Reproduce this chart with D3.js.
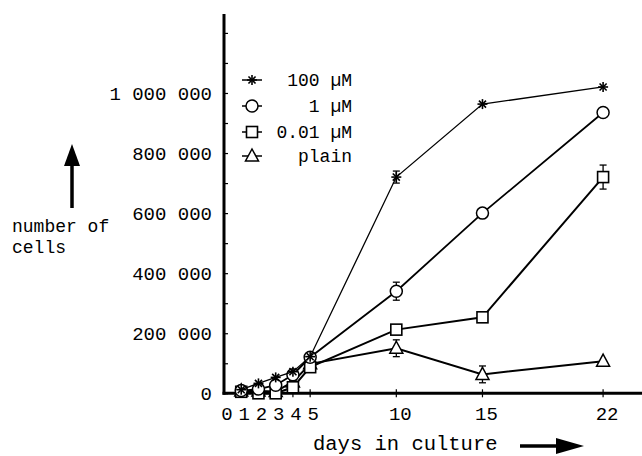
<!DOCTYPE html>
<html><head><meta charset="utf-8">
<script src="https://cdn.jsdelivr.net/npm/d3@7"></script>
<style>body{margin:0;background:#fff}svg{display:block}</style>
</head><body>
<script>
const days = [1, 2, 3, 4, 5, 10, 15, 22];
const xTickLabels = [0, 1, 2, 3, 4, 5, 10, 15, 22];
const yTickValues = [0, 200000, 400000, 600000, 800000, 1000000];
const yTickLabels = ["0", "200 000", "400 000", "600 000", "800 000", "1 000 000"];
const seriesNames = ["100 \u00b5M", "1 \u00b5M", "0.01 \u00b5M", "plain"];
const seriesSymbols = ["star", "circle", "square", "triangle"];
const v100 = [12000, 33000, 53000, 72000, 122000, 720000, 963000, 1020000];
const v1 = [9000, 14000, 27000, 62000, 120000, 340000, 600000, 935000];
const v001 = [5000, 0, 0, 20000, 87000, 212000, 253000, 720000];
const vPlain = [8000, 8000, 6000, 38000, 98000, 150000, 63000, 107000];
const err100 = [0, 0, 0, 0, 0, 20000, 0, 0];
const err1 = [0, 0, 0, 0, 0, 30000, 0, 0];
const err001 = [0, 0, 0, 0, 0, 0, 0, 40000];
const errPlain = [0, 0, 0, 0, 0, 28000, 28000, 0];
const allValues = [v100, v1, v001, vPlain];
const allErrors = [err100, err1, err001, errPlain];

const W = 642, H = 456;
const svg = d3.select("body").append("svg").attr("width", W).attr("height", H);
const x = d3.scaleLinear().domain([0, 24.2]).range([224, 641]);
const y = d3.scaleLinear().domain([0, 1263000]).range([393.3, 14]);
const font = "'Liberation Mono', 'DejaVu Sans Mono', monospace";

// Y axis
const yAxis = d3.axisRight(y).tickValues(d3.range(0, 1250001, 100000)).tickSize(4).tickFormat("");
const gy = svg.append("g").attr("transform", `translate(${x(0)},0)`).call(yAxis);
gy.select(".domain").remove();
gy.selectAll(".tick line").attr("stroke", "#000").attr("stroke-width", 1.2);
svg.append("line").attr("x1", x(0)).attr("x2", x(0)).attr("y1", y.range()[1]).attr("y2", y(0) + 1.5)
  .attr("stroke", "#000").attr("stroke-width", 3);
svg.append("g").selectAll("text").data(yTickValues).join("text")
  .attr("x", 212).attr("y", d => y(d)).attr("dy", "0.35em").attr("text-anchor", "end")
  .attr("font-family", font).attr("font-size", 19).text((d, i) => yTickLabels[i]);

// X axis
svg.append("line").attr("x1", x(0) - 1.5).attr("x2", W).attr("y1", y(0)).attr("y2", y(0))
  .attr("stroke", "#000").attr("stroke-width", 3);
svg.append("g").selectAll("line").data(xTickLabels.filter(d => d > 0)).join("line")
  .attr("x1", d => x(d)).attr("x2", d => x(d)).attr("y1", y(0) - 4).attr("y2", y(0) + 4)
  .attr("stroke", "#000").attr("stroke-width", 1.2);
svg.append("g").selectAll("text").data(xTickLabels).join("text")
  .attr("x", d => x(d) + (d >= 10 ? 4 : 3)).attr("y", 413).attr("dy", "0.35em").attr("text-anchor", "middle")
  .attr("font-family", font).attr("font-size", 19).text(d => d);

// Axis titles and arrows
svg.append("text").attr("x", 12).attr("y", 226).attr("dy", "0.35em")
  .attr("font-family", font).attr("font-size", 18).text("number of");
svg.append("text").attr("x", 12).attr("y", 247).attr("dy", "0.35em")
  .attr("font-family", font).attr("font-size", 18).text("cells");
svg.append("line").attr("x1", 72).attr("x2", 72).attr("y1", 208).attr("y2", 160).attr("stroke", "#000").attr("stroke-width", 3.5);
svg.append("path").attr("d", "M72,144 L64,166 L80,166 Z").attr("fill", "#000");
svg.append("text").attr("x", 313).attr("y", 443).attr("dy", "0.35em")
  .attr("font-family", font).attr("font-size", 20.5).text("days in culture");
svg.append("line").attr("x1", 520).attr("x2", 565).attr("y1", 446).attr("y2", 446).attr("stroke", "#000").attr("stroke-width", 3.5);
svg.append("path").attr("d", "M584,446 L556,438 L556,454 Z").attr("fill", "#000");

// symbol drawing
function drawSymbol(g, type, cx, cy) {
  if (type === "circle") {
    g.append("circle").attr("cx", cx).attr("cy", cy).attr("r", 6).attr("fill", "#fff").attr("stroke", "#000").attr("stroke-width", 1.5);
  } else if (type === "square") {
    g.append("rect").attr("x", cx - 5.5).attr("y", cy - 5.5).attr("width", 11).attr("height", 11).attr("fill", "#fff").attr("stroke", "#000").attr("stroke-width", 1.6);
  } else if (type === "triangle") {
    g.append("path").attr("d", `M${cx},${cy - 7} L${cx + 6.5},${cy + 5} L${cx - 6.5},${cy + 5} Z`).attr("fill", "#fff").attr("stroke", "#000").attr("stroke-width", 1.5);
  } else {
    const r = 5;
    for (let k = 0; k < 4; k++) {
      const a = k * Math.PI / 4;
      g.append("line").attr("x1", cx - r * Math.cos(a)).attr("y1", cy - r * Math.sin(a))
        .attr("x2", cx + r * Math.cos(a)).attr("y2", cy + r * Math.sin(a)).attr("stroke", "#000").attr("stroke-width", 1.6);
    }
  }
}

const line = d3.line().x((d, i) => x(days[i])).y(d => y(d));
const lineWidths = [1.3, 1.8, 2, 2];
// draw series from back to front
[3, 2, 1, 0].forEach(s => {
  const g = svg.append("g");
  g.append("path").attr("d", line(allValues[s])).attr("fill", "none").attr("stroke", "#000").attr("stroke-width", lineWidths[s]);
  allValues[s].forEach((v, i) => {
    const e = allErrors[s][i];
    if (e > 0) {
      const cx = x(days[i]);
      g.append("line").attr("x1", cx).attr("x2", cx).attr("y1", y(v - e)).attr("y2", y(v + e)).attr("stroke", "#000").attr("stroke-width", 1.3);
      [v - e, v + e].forEach(t => g.append("line").attr("x1", cx - 3.5).attr("x2", cx + 3.5).attr("y1", y(t)).attr("y2", y(t)).attr("stroke", "#000").attr("stroke-width", 1.3));
    }
    drawSymbol(g, seriesSymbols[s], x(days[i]), y(v));
  });
});

// legend
const legY = [80, 106, 132, 156];
seriesNames.forEach((name, i) => {
  const g = svg.append("g");
  g.append("line").attr("x1", 242).attr("x2", 262).attr("y1", legY[i]).attr("y2", legY[i]).attr("stroke", "#000").attr("stroke-width", 1.5);
  drawSymbol(g, seriesSymbols[i], 252, legY[i]);
  g.append("text").attr("x", 352).attr("y", legY[i]).attr("dy", "0.35em").attr("text-anchor", "end")
    .attr("font-family", font).attr("font-size", 18).text(name);
});
</script>
</body></html>
